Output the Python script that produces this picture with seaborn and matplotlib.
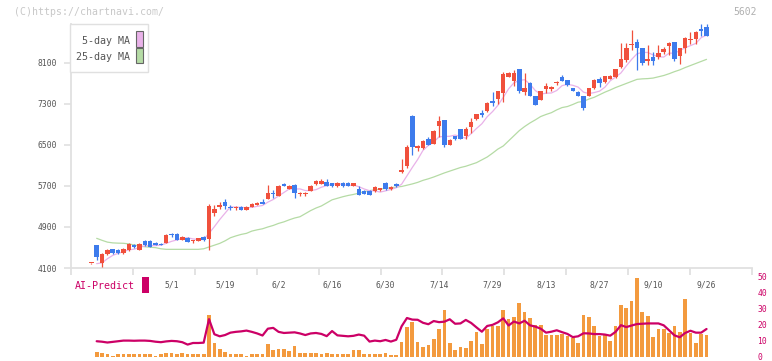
import numpy as np
import matplotlib
matplotlib.use("Agg")
import matplotlib.pyplot as plt
import seaborn as sns
from matplotlib.patches import Rectangle

# ---------------- data ----------------
opens = [4190, 4550, 4203, 4373, 4464, 4460, 4390, 4451, 4542, 4455,
         4627, 4627, 4575, 4575, 4585, 4750, 4763, 4650, 4685, 4625,
         4635, 4705, 4665, 5179, 5296, 5388, 5280, 5268, 5284, 5232,
         5297, 5329, 5394, 5452, 5550, 5505, 5739, 5641, 5720, 5545,
         5535, 5602, 5739, 5745, 5778, 5750, 5690, 5765, 5750, 5700,
         5641, 5602, 5602, 5596, 5630, 5759, 5635, 5733, 5980, 6090,
         7066, 6450, 6450, 6617, 6519, 6876, 6988, 6500, 6675, 6812,
         6675, 6857, 7007, 7118, 7169, 7364, 7391, 7510, 7833, 7755,
         7983, 7534, 7716, 7456, 7378, 7586, 7600, 7700, 7820, 7768,
         7612, 7540, 7456, 7456, 7612, 7787, 7730, 7790, 7820, 8028,
         8158, 8445, 8509, 8386, 8145, 8210, 8210, 8307, 8431, 8509,
         8236, 8386, 8550, 8568, 8740, 8808]
highs = [4200, 4555, 4398, 4470, 4475, 4480, 4485, 4580, 4565, 4580,
         4650, 4640, 4600, 4595, 4760, 4790, 4775, 4715, 4700, 4655,
         4690, 4720, 5349, 5329, 5390, 5440, 5320, 5300, 5300, 5300,
         5360, 5380, 5440, 5719, 5622, 5710, 5760, 5710, 5730, 5590,
         5580, 5710, 5810, 5830, 5830, 5760, 5770, 5775, 5770, 5760,
         5700, 5620, 5620, 5690, 5670, 5770, 5700, 5760, 6221, 6500,
         7085, 6500, 6600, 6660, 6800, 7070, 6990, 6610, 6680, 6815,
         6850, 7030, 7110, 7180, 7340, 7540, 7560, 7925, 7930, 7960,
         7990, 7898, 7730, 7460, 7560, 7700, 7660, 7740, 7870, 7775,
         7620, 7545, 7460, 7615, 7780, 7830, 7850, 7860, 7990, 8496,
         8496, 8743, 8568, 8390, 8450, 8307, 8450, 8420, 8509, 8515,
         8400, 8600, 8711, 8720, 8860, 8860]
lows = [4185, 4256, 4125, 4360, 4380, 4370, 4380, 4440, 4490, 4450,
        4530, 4505, 4540, 4545, 4580, 4700, 4640, 4645, 4600, 4590,
        4625, 4620, 4451, 5115, 5250, 5250, 5240, 5240, 5230, 5230,
        5290, 5320, 5349, 5452, 5472, 5505, 5690, 5641, 5472, 5510,
        5500, 5600, 5720, 5740, 5690, 5680, 5680, 5680, 5690, 5690,
        5520, 5540, 5520, 5590, 5600, 5630, 5630, 5680, 5948, 6045,
        6305, 6390, 6420, 6490, 6519, 6650, 6455, 6490, 6590, 6620,
        6625, 6740, 6990, 7050, 7150, 7270, 7300, 7340, 7820, 7650,
        7508, 7482, 7456, 7280, 7370, 7510, 7560, 7670, 7740, 7660,
        7550, 7450, 7190, 7450, 7600, 7640, 7700, 7780, 7800, 7996,
        8128, 8353, 7956, 8060, 8060, 8054, 8180, 8280, 8262, 8132,
        8080, 8288, 8470, 8470, 8626, 8620]
closes = [4195, 4320, 4373, 4451, 4390, 4395, 4477, 4568, 4500, 4568,
          4545, 4510, 4555, 4550, 4744, 4740, 4650, 4705, 4610, 4632,
          4685, 4650, 5310, 5251, 5330, 5310, 5270, 5275, 5232, 5290,
          5349, 5368, 5355, 5563, 5544, 5700, 5705, 5700, 5557, 5552,
          5542, 5700, 5790, 5797, 5700, 5690, 5765, 5690, 5700, 5750,
          5524, 5544, 5524, 5674, 5640, 5641, 5686, 5690, 6018, 6455,
          6455, 6460, 6587, 6500, 6779, 6968, 6500, 6597, 6625, 6625,
          6812, 6943, 7105, 7080, 7313, 7313, 7553, 7885, 7911, 7898,
          7560, 7612, 7456, 7280, 7553, 7651, 7630, 7703, 7755, 7670,
          7560, 7456, 7216, 7612, 7768, 7700, 7840, 7840, 7976, 8171,
          8386, 8470, 8392, 8106, 8171, 8145, 8288, 8366, 8483, 8171,
          8386, 8581, 8568, 8704, 8730, 8626]
ma5 = [np.nan, 4185, 4200, 4280, 4346, 4386, 4417, 4456, 4466, 4502,
       4532, 4538, 4536, 4546, 4581, 4620, 4648, 4678, 4690, 4667,
       4656, 4656, 4777, 4906, 5045, 5170, 5294, 5287, 5283, 5275,
       5283, 5303, 5319, 5385, 5436, 5506, 5573, 5642, 5641, 5643,
       5611, 5610, 5628, 5676, 5706, 5735, 5748, 5728, 5709, 5719,
       5686, 5642, 5608, 5603, 5581, 5605, 5633, 5666, 5735, 5898,
       6061, 6216, 6395, 6491, 6556, 6659, 6667, 6669, 6694, 6663,
       6632, 6720, 6822, 6913, 7051, 7151, 7273, 7429, 7595, 7712,
       7761, 7773, 7687, 7561, 7492, 7510, 7514, 7563, 7658, 7682,
       7664, 7629, 7531, 7503, 7522, 7550, 7627, 7752, 7825, 7905,
       8043, 8169, 8279, 8305, 8305, 8257, 8220, 8215, 8291, 8291,
       8339, 8397, 8438, 8482, 8594, 8642]
ma25 = [np.nan, 4679, 4640, 4605, 4590, 4585, 4582, 4570, 4550, 4530,
        4515, 4505, 4497, 4475, 4464, 4464, 4464, 4464, 4464, 4464,
        4464, 4475, 4510, 4545, 4580, 4630, 4690, 4725, 4755, 4776,
        4820, 4845, 4865, 4900, 4930, 4970, 5000, 5040, 5075, 5100,
        5160, 5220, 5270, 5310, 5370, 5430, 5460, 5490, 5515, 5535,
        5560, 5590, 5610, 5625, 5640, 5652, 5665, 5680, 5690, 5715,
        5740, 5770, 5810, 5840, 5875, 5915, 5955, 5990, 6025, 6060,
        6085, 6120, 6155, 6210, 6265, 6340, 6420, 6480, 6580, 6680,
        6780, 6860, 6930, 6990, 7055, 7095, 7130, 7185, 7230, 7250,
        7290, 7335, 7350, 7395, 7430, 7480, 7530, 7573, 7620, 7660,
        7700, 7740, 7780, 7790, 7795, 7805, 7830, 7855, 7890, 7930,
        7965, 8010, 8050, 8090, 8130, 8170]
volume = [np.nan, 3.1, 2.3, 1.7, 0.6, 1.3, 1.3, 1.7, 1.3, 1.3,
          1.3, 1.7, 0.6, 1.3, 2.3, 2.3, 1.7, 2.3, 1.3, 1.7,
          1.3, 1.7, 26.0, 8.5, 4.8, 3.1, 1.7, 1.3, 1.3, 0.6,
          1.3, 1.3, 1.3, 7.9, 3.8, 4.8, 4.8, 3.5, 6.9, 2.3,
          2.3, 2.3, 2.3, 1.7, 2.3, 1.7, 1.3, 1.7, 1.7, 4.2,
          4.2, 1.7, 1.7, 1.7, 1.7, 2.3, 1.0, 1.0, 9.2, 18.8,
          21.9, 9.2, 6.0, 7.3, 11.0, 17.3, 29.2, 8.5, 4.2, 6.0,
          5.4, 9.8, 15.4, 7.9, 17.3, 19.2, 19.2, 29.2, 23.5, 24.8,
          33.5, 27.9, 24.2, 19.8, 19.8, 13.5, 13.5, 13.5, 14.2, 12.9,
          11.7, 8.5, 26.0, 24.8, 19.2, 12.9, 13.5, 9.8, 19.2, 32.3,
          30.4, 34.8, 49.2, 27.9, 25.4, 12.3, 17.3, 17.3, 14.8, 19.2,
          15.4, 36.0, 14.8, 8.5, 14.2, 13.5]
ai_predict = [np.nan, 9.6, 9.3, 8.8, 9.2, 9.6, 10.0, 10.0, 9.9, 10.0,
              10.0, 9.8, 9.3, 9.0, 9.5, 9.8, 9.6, 9.0, 7.5, 8.5,
              8.5, 8.7, 23.5, 14.0, 12.7, 13.5, 15.0, 15.5, 15.8, 16.3,
              15.5, 14.5, 13.2, 17.5, 18.0, 15.5, 14.8, 15.0, 15.2, 14.5,
              13.5, 14.5, 14.8, 14.2, 12.8, 16.0, 13.3, 13.0, 12.7, 13.0,
              13.8, 13.1, 9.4, 10.0, 9.6, 10.4, 9.4, 10.5, 19.0, 24.2,
              23.2, 23.1, 21.2, 20.3, 22.3, 21.6, 21.9, 23.4, 20.6, 20.8,
              23.0, 21.1, 18.3, 15.6, 19.2, 19.9, 21.5, 24.0, 19.5, 22.0,
              20.8, 22.5, 19.6, 18.8, 17.5, 15.0, 15.6, 16.5, 15.3, 14.2,
              12.2, 12.7, 14.6, 14.5, 14.1, 14.1, 13.8, 13.1, 15.5, 19.7,
              18.5, 19.5, 20.4, 20.6, 20.8, 20.8, 20.8, 19.6, 16.5, 13.3,
              12.1, 14.8, 16.2, 15.0, 15.0, 17.3]
date_labels = ["5/1", "5/19", "6/2", "6/16", "6/30", "7/14",
               "7/29", "8/13", "8/27", "9/10", "9/26"]
date_label_index = [15, 25, 35, 45, 55, 65, 75, 85, 95, 105, 115]
price_ticks = [4100, 4900, 5700, 6500, 7300, 8100]
ai_ticks = [0, 10, 20, 30, 40, 50]

# ---------------- styling ----------------
W, H = 772, 361
sns.set_theme(style="white")
plt.rcParams["font.family"] = ["DejaVu Sans Mono", "DejaVu Sans"]

RED = "#f0503c"
BLUE = "#3d7bec"
PINK = "#e9b2e9"
GREEN = "#b5dba5"
CRIMSON = "#cc0066"
ORANGE = "#f39a3e"
AXIS = "#e0e0e0"
TXT = "#555555"

fig = plt.figure(figsize=(W / 100, H / 100), dpi=100)
fig.patch.set_facecolor("white")


def fx(x):
    return x / W


def fy(y):
    return 1 - y / H


ax = fig.add_axes([fx(71), fy(268), (752 - 71) / W, (268 - 24) / H])
axv = fig.add_axes([fx(71), fy(356.5), (752 - 71) / W, (356.5 - 277) / H])

idx = np.arange(len(closes))
o = np.array(opens, float)
c = np.array(closes, float)
hi = np.array(highs, float)
lo = np.array(lows, float)
colors = [RED if cc >= oo else BLUE for oo, cc in zip(o, c)]

xlim = (-3.8, 123.5)

# moving averages
sns.lineplot(x=idx, y=ma25, ax=ax, color=GREEN, linewidth=0.9, legend=False, zorder=2)
sns.lineplot(x=idx, y=ma5, ax=ax, color=PINK, linewidth=0.9, legend=False, zorder=2)

# candles
ax.vlines(idx, lo, hi, colors=colors, linewidth=0.9, zorder=3)
body_bottom = np.minimum(o, c)
body_height = np.maximum(np.abs(c - o), 24)
ax.bar(idx, body_height, bottom=body_bottom, width=0.84, color=colors,
       linewidth=0, zorder=4)

ax.set_xlim(*xlim)
ax.set_ylim(4100, 8860)
ax.set_xlabel("")
ax.set_ylabel("")
for s in ["top", "right"]:
    ax.spines[s].set_visible(False)
for s in ["left", "bottom"]:
    ax.spines[s].set_color(AXIS)
    ax.spines[s].set_linewidth(1.3)

ax.set_yticks(price_ticks)
ax.set_yticklabels([str(t) for t in price_ticks])
ax.tick_params(axis="y", which="major", length=5, width=1.2, color=AXIS,
               labelsize=5.8, labelcolor=TXT, pad=5, left=True)
ax.set_xticks(np.linspace(xlim[0], xlim[1], 12))
ax.set_xticklabels([])
ax.tick_params(axis="x", which="major", length=5, width=1.3, color=AXIS,
               direction="out", bottom=True)
ax.set_xticks(date_label_index, minor=True)
ax.set_xticklabels(date_labels, minor=True)
ax.tick_params(axis="x", which="minor", length=0, labelsize=5.8,
               labelcolor=TXT, pad=9)
ax.grid(False)

# volume + AI predict
axv.bar(idx, volume, width=0.69, color=ORANGE, linewidth=0, zorder=2)
sns.lineplot(x=idx, y=ai_predict, ax=axv, color=CRIMSON, linewidth=1.6,
             legend=False, zorder=3)
axv.set_xlim(*xlim)
axv.set_ylim(0, 50)
axv.set_xlabel("")
axv.set_ylabel("")
for s in axv.spines.values():
    s.set_visible(False)
axv.set_xticks([])
axv.yaxis.tick_right()
axv.set_yticks(ai_ticks)
axv.set_yticklabels([str(t) for t in ai_ticks])
axv.tick_params(axis="y", length=0, labelsize=5.8, labelcolor=CRIMSON, pad=4)
axv.grid(False)
axv.patch.set_alpha(0)

# header texts
fig.text(fx(14), fy(12), "(C)https://chartnavi.com/", fontsize=7.1,
         color="#c8c8c8", ha="left", va="center")
fig.text(fx(757), fy(12.3), "5602", fontsize=7, color="#b0b0b0",
         ha="right", va="center")

# legend box
fig.add_artist(Rectangle((fx(70), fy(71.7)), 78 / W, 47.7 / H,
                         transform=fig.transFigure, facecolor="white",
                         edgecolor=AXIS, linewidth=1, zorder=5))
fig.text(fx(130), fy(41), "5-day MA", fontsize=7.2, color=TXT,
         ha="right", va="center", zorder=6)
fig.text(fx(130), fy(56.5), "25-day MA", fontsize=7.2, color=TXT,
         ha="right", va="center", zorder=6)
fig.add_artist(Rectangle((fx(136.3), fy(46.7)), 6.4 / W, 15.3 / H,
                         transform=fig.transFigure, facecolor=PINK,
                         edgecolor="#666666", linewidth=0.8, zorder=6))
fig.add_artist(Rectangle((fx(136.3), fy(63.3)), 6.4 / W, 15.0 / H,
                         transform=fig.transFigure, facecolor=GREEN,
                         edgecolor="#666666", linewidth=0.8, zorder=6))

# AI-Predict label
fig.text(fx(75), fy(286), "AI-Predict", fontsize=7.2, color=CRIMSON,
         ha="left", va="center")
fig.add_artist(Rectangle((fx(142), fy(292.7)), 7 / W, 15.4 / H,
                         transform=fig.transFigure, facecolor=CRIMSON,
                         edgecolor="none", zorder=6))

fig.savefig("out.png", dpi=100, facecolor="white")
